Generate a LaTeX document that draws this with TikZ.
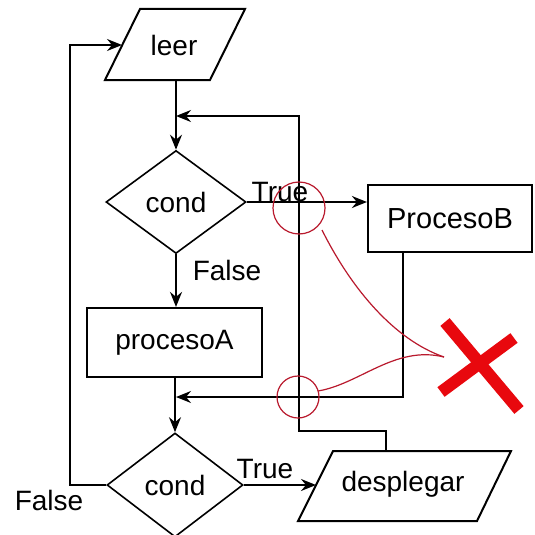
\documentclass[tikz,border=0pt]{standalone}
\usepackage{fontspec}
\setmainfont{Liberation Sans}
\usetikzlibrary{arrows.meta,shapes.geometric}
\definecolor{markred}{RGB}{185,25,45}
\definecolor{crossred}{RGB}{232,8,14}
\begin{document}
\begin{tikzpicture}[x=1pt,y=-1pt,
  txt/.style={font=\fontsize{28}{30}\selectfont,inner sep=0pt},
  outline/.style={draw=black,line width=2pt,line join=miter},
  flow/.style={draw=black,line width=2pt},
  tip/.style={-{Stealth[length=15pt,width=12pt,inset=5pt]}},
  decision/.style={diamond,draw=black,line width=1.6pt,inner sep=0pt,
    font=\fontsize{28}{30}\selectfont},
  process/.style={rectangle,draw=black,line width=2.2pt,inner sep=0pt,
    font=\fontsize{28}{30}\selectfont},
  markup/.style={draw=markred,line width=1.2pt},
  cross/.style={draw=crossred,line width=12pt}
]
\useasboundingbox[fill=white] (0,0) rectangle (535,535);

% input: leer
\coordinate (leer-nw) at (140,9);
\coordinate (leer-ne) at (245,9);
\coordinate (leer-se) at (210,80);
\coordinate (leer-sw) at (105,80);
\draw[outline] (leer-nw) -- (leer-ne) -- (leer-se) -- (leer-sw) -- cycle;
\node[txt] (leer) at (174,45) {leer};
\coordinate (leer-w) at (122,45);
\coordinate (leer-s) at (176,80);

% first decision and its branches
\node[decision,minimum width=140pt,minimum height=103pt] (c1) at (176,202) {cond};
\node[process,minimum width=164pt,minimum height=67pt,
  font=\fontsize{29}{31}\selectfont] (pB) at (450,218.5) {ProcesoB};
\node[process,minimum width=175pt,minimum height=69pt] (pA) at (174.5,342.5) {procesoA};

% second decision
\node[decision,minimum width=136pt,minimum height=104pt] (c2) at (175,485) {cond};

% output: desplegar
\coordinate (desp-nw) at (333,451);
\coordinate (desp-ne) at (511,451);
\coordinate (desp-se) at (477,521);
\coordinate (desp-sw) at (298,521);
\draw[outline] (desp-nw) -- (desp-ne) -- (desp-se) -- (desp-sw) -- cycle;
\node[txt] (desp) at (403,484) {desplegar};
\coordinate (desp-w) at (316,485);
\coordinate (desp-n) at (386,451);

% branch labels
\node[txt,anchor=base] (t1) at (280,201) {True};
\node[txt,anchor=base] (f1) at (227,280) {False};
\node[txt,anchor=base] (t2) at (265,478) {True};
\node[txt,anchor=base] (f2) at (49,510) {False};

% bend points of the return lines
\coordinate (loop) at (70,45);
\coordinate (dr) at (386,431);
\coordinate (ret1) at (299,116);
\coordinate (pb-s) at (403,252);
\coordinate (join2) at (176,397);

% connectors
\draw[flow,tip] (leer-s) -- (c1.north);
\draw[flow,tip] (c1.east) -- (c1.east -| pB.west);
\draw[flow,tip] (c1.south) -- (c1.south |- pA.north);
\draw[flow,tip] (c2.north |- pA.south) -- (c2.north);
\draw[flow,tip] (c2.west) -| (loop) -- (leer-w);
\draw[flow,tip] (c2.east) -- (desp-w);
\draw[flow,tip] (desp-n) -- (dr) -| (ret1) -- (ret1 -| leer-s);
\draw[flow,tip] (pb-s) |- (join2);

% hand-drawn markup
\draw[markup] (299,208) circle[radius=26pt];
\draw[markup] (298,397) circle[radius=21pt];
\coordinate (mark-tip) at (444,357);
\draw[markup] (322,230) .. controls (352,290) and (395,340) .. (mark-tip);
\draw[markup] (318,391) .. controls (360,384) and (395,345) .. (mark-tip);
\draw[cross] (445,322) -- (519,410);
\draw[cross] (441,392) -- (514,338);
\end{tikzpicture}
\end{document}
